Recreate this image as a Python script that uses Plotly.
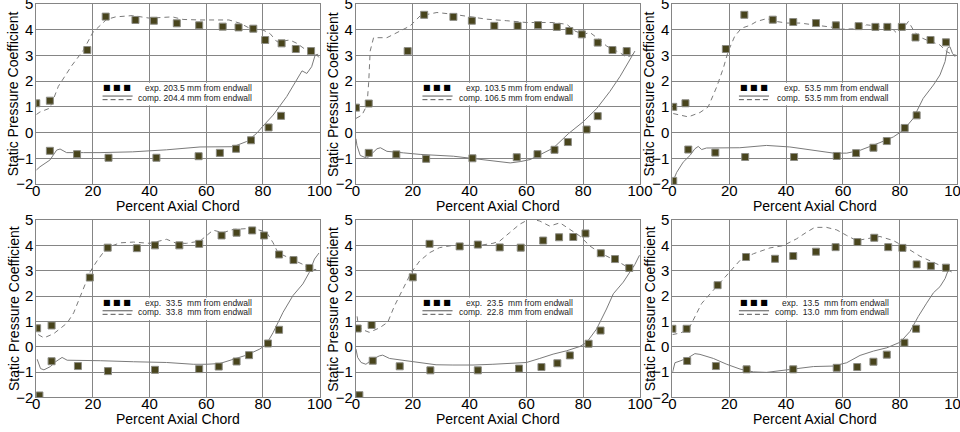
import plotly.graph_objects as go

# ---------------- axes / labels ----------------
X_TICKS = [0, 20, 40, 60, 80, 100]
Y_TICKS = [-2, -1, 0, 1, 2, 3, 4, 5]
X_TITLE = "Percent Axial Chord"
Y_TITLE = "Static Pressure Coefficient"

# ---------------- panel 1 : 203.5 mm ----------------
p1_exp_label = "exp. 203.5 mm from endwall"
p1_comp_label = "comp. 204.4 mm from endwall"
p1_exp_up_x = [0, 4.8, 18, 24.5, 35, 41.5, 49.6, 57.5, 65.8, 71.4, 76.6, 80.8, 86.6, 91.6, 97]
p1_exp_up_y = [1.14, 1.24, 3.21, 4.51, 4.38, 4.35, 4.25, 4.17, 4.12, 4.09, 4.04, 3.6, 3.47, 3.25, 3.17]
p1_exp_lo_x = [4.8, 14.4, 25.5, 42.4, 57.3, 64.8, 70.5, 75.8, 82, 86.4]
p1_exp_lo_y = [-0.71, -0.84, -0.98, -0.98, -0.92, -0.79, -0.63, -0.3, 0.2, 0.65]
p1_dash_x = [0, 1.3, 4.8, 7.8, 12.5, 16.6, 20, 24.8, 28, 34, 40, 48, 51.8, 57.7, 68, 72, 75.4, 80, 82.5, 85, 89.5, 92, 95.4, 98.4, 100]
p1_dash_y = [0.7, 0.8, 0.95, 1.8, 2.6, 3.2, 3.9, 4.4, 4.5, 4.55, 4.45, 4.5, 4.4, 4.38, 4.38, 4.25, 4.05, 3.99, 3.85, 3.53, 3.6, 3.47, 3.2, 3.08, 2.9]
p1_solid_x = [0, 1.3, 4.8, 7.2, 8.4, 10.7, 16.6, 22.5, 34, 46, 57.8, 69.5, 74.2, 77.8, 80, 83.6, 88.4, 92, 93.8, 95.5, 97.2, 98.4, 99.5]
p1_solid_y = [-1.46, -1.33, -1.07, -0.68, -0.64, -0.78, -0.78, -0.78, -0.75, -0.67, -0.56, -0.55, -0.35, -0.03, 0.25, 0.68, 1.4, 2.04, 2.4, 2.3, 2.56, 3.0, 3.05]

# ---------------- panel 2 : 103.5 mm ----------------
p2_exp_label = "exp. 103.5 mm from endwall"
p2_comp_label = "comp. 106.5 mm from endwall"
p2_exp_up_x = [0, 4.5, 18.2, 24, 34.3, 40.8, 48.7, 56.9, 64.1, 70.7, 75.1, 79.5, 85.1, 90.3, 95.3]
p2_exp_up_y = [0.97, 1.13, 3.17, 4.58, 4.5, 4.35, 4.15, 4.15, 4.18, 4.11, 3.95, 3.82, 3.5, 3.21, 3.17]
p2_exp_lo_x = [4.5, 14.2, 24.7, 41, 56.6, 63.9, 69.9, 74.6, 81.2, 85.1]
p2_exp_lo_y = [-0.79, -0.85, -1.02, -1.0, -0.96, -0.84, -0.67, -0.37, 0.12, 0.64]
p2_dash_x = [0, 2.1, 3.9, 4.5, 5, 6.2, 10.9, 14.4, 19.1, 22.6, 28.5, 34.3, 41.4, 46, 53.1, 60.1, 69.5, 74.2, 77.1, 80, 82.4, 84.8, 88.3, 93, 95.3, 97, 98.2]
p2_dash_y = [0.55, 0.68, 1.07, 1.99, 3.17, 3.69, 3.69, 3.89, 4.15, 4.54, 4.67, 4.6, 4.48, 4.41, 4.35, 4.28, 4.28, 4.21, 3.95, 3.82, 3.89, 3.69, 3.36, 3.1, 2.93, 3.0, 3.1]
p2_solid_x = [0, 0.35, 1.5, 3.9, 5.6, 7.4, 8.6, 10.9, 16.8, 22.6, 34.3, 42.6, 49.6, 54.3, 57.8, 61.3, 64.8, 69.5, 74.8, 80, 84.8, 89.4, 93, 95.9, 98.2]
p2_solid_y = [-0.24, -0.5, -0.89, -1.0, -0.82, -0.63, -0.59, -0.73, -0.79, -0.85, -0.92, -1.02, -1.13, -1.18, -1.13, -1.05, -0.86, -0.6, -0.04, 0.42, 0.94, 1.6, 2.19, 2.77, 3.17]

# ---------------- panel 3 : 53.5 mm ----------------
p3_exp_label = "exp.\u00a0\u00a053.5 mm from endwall"
p3_comp_label = "comp.\u00a0\u00a053.5 mm from endwall"
p3_exp_up_x = [0.3, 4.6, 18.8, 25.3, 35.3, 42.5, 50.5, 57.5, 65.5, 71.4, 75.6, 80.7, 85.5, 90.8, 96.2]
p3_exp_up_y = [1.0, 1.14, 3.25, 4.58, 4.39, 4.3, 4.26, 4.17, 4.14, 4.11, 4.11, 4.11, 3.7, 3.6, 3.51]
p3_exp_lo_x = [0.3, 5.6, 15.1, 25.6, 42.8, 57.8, 64.6, 70.7, 75.4, 81.7, 85.9]
p3_exp_lo_y = [-1.88, -0.66, -0.78, -0.95, -0.95, -0.91, -0.8, -0.59, -0.33, 0.18, 0.67]
p3_dash_x = [0.3, 2.7, 5.6, 9.7, 12.6, 15.6, 17.9, 19.6, 21.9, 24.3, 27.3, 29.6, 33.1, 36.6, 40.2, 44.9, 49.6, 56.6, 59, 66, 68.3, 73, 77.7, 78.9, 81.2, 83, 84.7, 86.5, 89.4, 94.1, 96.4, 98.2, 100]
p3_dash_y = [0.74, 0.67, 0.61, 0.78, 1.0, 1.78, 2.5, 3.15, 3.74, 4.06, 4.17, 4.32, 4.43, 4.32, 4.26, 4.26, 4.19, 4.09, 4.02, 4.04, 4.19, 4.13, 4.0, 3.87, 4.06, 4.32, 4.0, 3.74, 3.6, 3.41, 3.15, 3.05, 3.0]
p3_solid_x = [0.3, 1.5, 3.8, 6.2, 7.9, 9.1, 10.3, 12, 23.7, 33.1, 41.3, 50.7, 56.7, 61.3, 66, 73, 77.7, 81.2, 84.7, 88.2, 91.8, 94.1, 95.9, 96.7, 97.6, 98.5, 99.4]
p3_solid_y = [-1.87, -1.55, -1.15, -0.89, -0.63, -0.54, -0.66, -0.6, -0.59, -0.5, -0.56, -0.69, -0.8, -0.8, -0.69, -0.39, -0.17, 0.09, 0.55, 1.33, 1.85, 2.24, 2.76, 3.28, 3.34, 3.08, 2.95]

# ---------------- panel 4 : 33.5 mm ----------------
p4_exp_label = "exp.\u00a0\u00a033.5\u00a0\u00a0mm from endwall"
p4_comp_label = "comp.\u00a0\u00a033.8\u00a0\u00a0mm from endwall"
p4_exp_up_x = [0.3, 5.4, 18.9, 25.2, 35.5, 41.9, 50.5, 57.5, 65.4, 70.7, 76.2, 80.4, 85.7, 90.8, 96.4]
p4_exp_up_y = [0.73, 0.84, 2.73, 3.91, 3.89, 4.0, 4.0, 4.06, 4.39, 4.5, 4.59, 4.39, 3.64, 3.42, 3.11]
p4_exp_lo_x = [1.1, 5.4, 14.7, 25.3, 41.9, 57.5, 64.4, 70.7, 75.1, 81.8, 85.7]
p4_exp_lo_y = [-1.92, -0.57, -0.76, -0.96, -0.91, -0.88, -0.78, -0.58, -0.33, 0.13, 0.67]
p4_dash_x = [0.7, 2.7, 6.2, 10.9, 13.2, 16.1, 19.1, 21.4, 24.9, 29.6, 34.3, 40.1, 46, 49.5, 53, 57.8, 60.1, 62.4, 65.9, 69.5, 74.2, 77.7, 81.2, 83.6, 85.3, 89.4, 94.1, 96.4, 98.8]
p4_dash_y = [0.48, 0.35, 0.52, 0.94, 1.34, 2.13, 2.98, 3.38, 3.91, 4.1, 4.13, 4.08, 4.24, 4.08, 4.08, 4.17, 4.37, 4.6, 4.5, 4.63, 4.66, 4.63, 4.53, 4.1, 3.71, 3.51, 3.25, 3.05, 3.05]
p4_solid_x = [0.3, 1.5, 2.7, 5, 6.8, 9.1, 10.9, 16.8, 22.6, 34.3, 46, 55.4, 60.1, 64.8, 69.5, 74.2, 78.9, 81.2, 83.6, 87.1, 90.6, 94.1, 96.4, 98.2, 99.8]
p4_solid_y = [-0.49, -0.86, -0.91, -0.78, -0.59, -0.42, -0.53, -0.53, -0.55, -0.59, -0.62, -0.69, -0.69, -0.66, -0.49, -0.33, -0.09, 0.1, 0.56, 1.36, 2.02, 2.48, 2.94, 3.46, 3.7]

# ---------------- panel 5 : 23.5 mm ----------------
p5_exp_label = "exp.\u00a0\u00a023.5\u00a0\u00a0mm from endwall"
p5_comp_label = "comp.\u00a0\u00a022.8\u00a0\u00a0mm from endwall"
p5_exp_up_x = [0.6, 5.5, 20, 25.9, 36.5, 42.9, 50.6, 58, 65.9, 71.5, 76.5, 80.8, 86.2, 91.2, 96.2]
p5_exp_up_y = [0.72, 0.86, 2.74, 4.06, 3.96, 4.03, 3.92, 3.91, 4.19, 4.32, 4.33, 4.47, 3.69, 3.46, 3.11]
p5_exp_lo_x = [1.2, 5.9, 15.4, 26.2, 42.9, 57.4, 65.3, 70.9, 75.3, 81.9, 86.1]
p5_exp_lo_y = [-1.91, -0.55, -0.77, -0.93, -0.93, -0.86, -0.8, -0.65, -0.34, 0.12, 0.64]
p5_dash_x = [0.4, 0.9, 2.4, 4.7, 8.2, 11.2, 13.5, 16.5, 19.4, 22.4, 25.9, 29.4, 34.1, 38.8, 43.5, 48.2, 50.6, 54.1, 57.6, 61.2, 64.7, 68.2, 71.8, 75.3, 78.8, 82.4, 85.9, 89.4, 92.9, 95.9, 98.2]
p5_dash_y = [1.2, 0.8, 0.67, 0.57, 0.74, 0.97, 1.6, 2.26, 2.92, 3.38, 3.71, 3.91, 4.0, 4.0, 4.0, 4.08, 4.17, 4.5, 4.83, 5.05, 4.96, 4.76, 4.89, 4.63, 4.37, 3.97, 3.71, 3.51, 3.32, 3.12, 3.18]
p5_solid_x = [0, 0.6, 1.8, 3.5, 5.9, 8.2, 9.4, 11.8, 17.6, 22.4, 28.2, 34.1, 41.2, 48.2, 55.3, 60, 64.7, 69.4, 74.1, 78.8, 81.2, 84.7, 88.2, 90.6, 94.1, 96.5, 98.2, 99.8]
p5_solid_y = [-0.09, -0.42, -0.62, -0.69, -0.49, -0.36, -0.33, -0.46, -0.55, -0.62, -0.71, -0.72, -0.72, -0.69, -0.66, -0.62, -0.46, -0.29, -0.16, 0.01, 0.17, 0.7, 1.49, 2.09, 2.55, 2.99, 3.25, 3.61]

# ---------------- panel 6 : 13.5 mm ----------------
p6_exp_label = "exp.\u00a0\u00a013.5\u00a0\u00a0mm from endwall"
p6_comp_label = "comp.\u00a0\u00a013.0\u00a0\u00a0mm from endwall"
p6_exp_up_x = [0, 5, 15.9, 25.9, 36.1, 42.5, 50.5, 57.4, 65.1, 71, 75.9, 80.9, 85.9, 90.9, 96.2]
p6_exp_up_y = [0.71, 0.71, 2.43, 3.54, 3.47, 3.58, 3.75, 3.93, 4.13, 4.3, 3.93, 3.9, 3.25, 3.19, 3.12]
p6_exp_lo_x = [5.2, 15.3, 26.1, 42.5, 57.8, 65, 70.7, 75.4, 81.6, 85.7]
p6_exp_lo_y = [-0.56, -0.76, -0.89, -0.89, -0.83, -0.8, -0.59, -0.31, 0.16, 0.71]
p6_dash_x = [0, 2.7, 5.6, 7.3, 10.3, 14.4, 19.1, 23.8, 28.5, 34.3, 39, 43.7, 47.2, 50.1, 54.2, 57.8, 61.3, 64.8, 68.3, 73, 77.7, 82.4, 87.1, 91.8, 95.3, 98.2]
p6_dash_y = [0.48, 0.54, 0.67, 1.06, 1.71, 2.23, 2.82, 3.41, 3.67, 3.9, 3.99, 4.26, 4.52, 4.71, 4.71, 4.61, 4.39, 4.19, 4.26, 4.35, 4.19, 3.9, 3.57, 3.34, 3.15, 2.95]
p6_solid_x = [0, 0.9, 2.7, 3.8, 5.6, 7.9, 9.7, 14.4, 19.1, 23.8, 28.5, 33.1, 37.8, 43.7, 49.6, 56.6, 61.3, 66, 70.7, 75.4, 80.1, 83.6, 86.5, 89.4, 91.8, 94.1, 95.9, 97, 98.2]
p6_solid_y = [-1.03, -0.63, -0.56, -0.5, -0.43, -0.27, -0.3, -0.46, -0.69, -0.88, -0.99, -1.01, -0.95, -0.86, -0.78, -0.76, -0.63, -0.34, -0.17, -0.04, 0.18, 0.61, 1.2, 1.72, 2.13, 2.37, 2.69, 3.02, 3.0]

panels = [
    (p1_exp_label, p1_comp_label, p1_exp_up_x, p1_exp_up_y, p1_exp_lo_x, p1_exp_lo_y, p1_dash_x, p1_dash_y, p1_solid_x, p1_solid_y),
    (p2_exp_label, p2_comp_label, p2_exp_up_x, p2_exp_up_y, p2_exp_lo_x, p2_exp_lo_y, p2_dash_x, p2_dash_y, p2_solid_x, p2_solid_y),
    (p3_exp_label, p3_comp_label, p3_exp_up_x, p3_exp_up_y, p3_exp_lo_x, p3_exp_lo_y, p3_dash_x, p3_dash_y, p3_solid_x, p3_solid_y),
    (p4_exp_label, p4_comp_label, p4_exp_up_x, p4_exp_up_y, p4_exp_lo_x, p4_exp_lo_y, p4_dash_x, p4_dash_y, p4_solid_x, p4_solid_y),
    (p5_exp_label, p5_comp_label, p5_exp_up_x, p5_exp_up_y, p5_exp_lo_x, p5_exp_lo_y, p5_dash_x, p5_dash_y, p5_solid_x, p5_solid_y),
    (p6_exp_label, p6_comp_label, p6_exp_up_x, p6_exp_up_y, p6_exp_lo_x, p6_exp_lo_y, p6_dash_x, p6_dash_y, p6_solid_x, p6_solid_y),
]

# ---------------- styling ----------------
FONT = "Liberation Sans, Arial, sans-serif"
GRID = "#858585"
CURVE = "#7a7a7a"
MARK_FILL = "#48441c"
MARK_EDGE = "#8c8c84"
COL_DOMAINS = [[0.0378, 0.3329], [0.3708, 0.6667], [0.7004, 0.9966]]
ROW_DOMAINS = [[0.5741, 0.9907], [0.0799, 0.4907]]

fig = go.Figure()
shapes = []
annotations = []
layout_axes = {}

for i, (exp_lab, comp_lab, eux, euy, elx, ely, dx, dy, sx, sy) in enumerate(panels):
    n = i + 1
    xr = "x" if n == 1 else f"x{n}"
    yr = "y" if n == 1 else f"y{n}"
    common = dict(xaxis=xr, yaxis=yr, showlegend=False, hoverinfo="skip")
    fig.add_trace(go.Scatter(x=sx, y=sy, mode="lines",
                             line=dict(color=CURVE, width=1), **common))
    fig.add_trace(go.Scatter(x=dx, y=dy, mode="lines",
                             line=dict(color=CURVE, width=1, dash="5px,4px"), **common))
    for mx, my in ((eux, euy), (elx, ely)):
        fig.add_trace(go.Scatter(x=mx, y=my, mode="markers",
                                 marker=dict(symbol="square", size=7, color=MARK_FILL,
                                             line=dict(color=MARK_EDGE, width=1)),
                                 **common))

    row, col = divmod(i, 3)
    axis_common = dict(showgrid=True, gridcolor=GRID, gridwidth=1,
                       showline=True, linecolor=GRID, linewidth=1, mirror=True,
                       zeroline=False, ticks="", automargin=False,
                       ticklabeloverflow="allow",
                       tickfont=dict(family=FONT, size=15, color="black"))
    layout_axes["xaxis" if n == 1 else f"xaxis{n}"] = dict(
        domain=COL_DOMAINS[col], anchor=yr, range=[0, 100], tickvals=X_TICKS,
        ticklabelstandoff=-7, **axis_common)
    layout_axes["yaxis" if n == 1 else f"yaxis{n}"] = dict(
        domain=ROW_DOMAINS[row], anchor=xr, range=[-2, 5], tickvals=Y_TICKS,
        ticklabelstandoff=-1, **axis_common)

    # axis titles
    annotations.append(dict(xref=f"{xr} domain", yref=f"{yr} domain", x=0.5, y=0,
                            yshift=-22, yanchor="middle", text=X_TITLE, showarrow=False,
                            font=dict(family=FONT, size=14, color="black")))
    annotations.append(dict(xref=f"{xr} domain", yref=f"{yr} domain", x=0, y=0.5,
                            xshift=-23, xanchor="center", textangle=-90, text=Y_TITLE,
                            showarrow=False, font=dict(family=FONT, size=14, color="black")))

    # in-plot key (white box, sample symbols, right-aligned text)
    shapes.append(dict(type="rect", xref=xr, yref=yr, x0=22, x1=78, y0=1.06, y1=1.94,
                       fillcolor="white", line=dict(width=0), layer="between"))
    shapes.append(dict(type="line", xref=xr, yref=yr, x0=23.4, x1=34, y0=1.42, y1=1.42,
                       line=dict(color="#555555", width=1)))
    shapes.append(dict(type="line", xref=xr, yref=yr, x0=23.4, x1=34, y0=1.28, y1=1.28,
                       line=dict(color="#555555", width=1, dash="5px,3px")))
    annotations.append(dict(xref=xr, yref=yr, x=28.6, y=1.74, text="\u25a0 \u25a0 \u25a0",
                            showarrow=False, font=dict(family="DejaVu Sans", size=8, color="black")))
    annotations.append(dict(xref=xr, yref=yr, x=77, y=1.72, text=exp_lab, xanchor="right",
                            showarrow=False, font=dict(family=FONT, size=8.5, color="#222222")))
    annotations.append(dict(xref=xr, yref=yr, x=77, y=1.36, text=comp_lab, xanchor="right",
                            showarrow=False, font=dict(family=FONT, size=8.5, color="#222222")))

fig.update_layout(
    width=960, height=432, autosize=False,
    margin=dict(l=0, r=0, t=0, b=0, autoexpand=False),
    paper_bgcolor="white", plot_bgcolor="white",
    font=dict(family=FONT, color="black"),
    shapes=shapes, annotations=annotations,
    **layout_axes,
)

fig.write_html(
    "out.html",
    config={"displayModeBar": False},
    post_script="document.body.style.margin='0';document.body.style.overflow='hidden';",
)
